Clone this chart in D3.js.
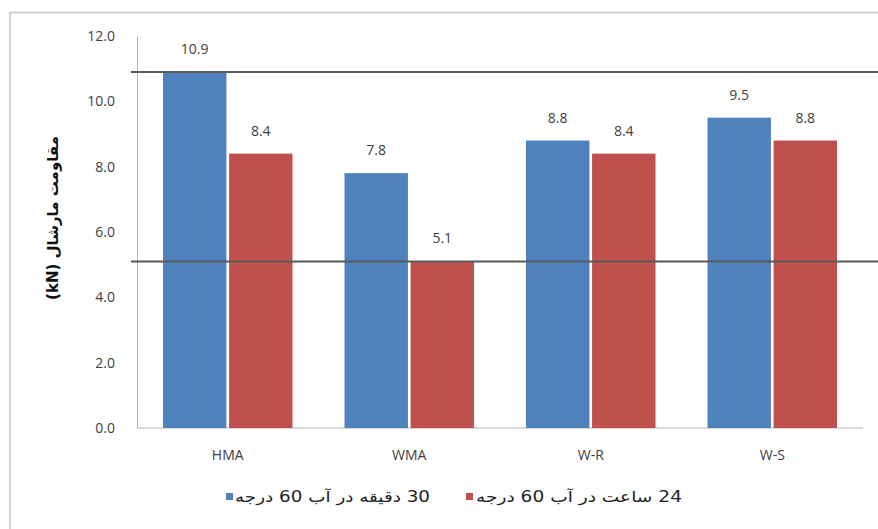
<!DOCTYPE html>
<html>
<head>
<meta charset="utf-8">
<script src="https://cdn.jsdelivr.net/npm/d3@7"></script>
<style>
  body { margin: 0; background: #fff; }
  svg { display: block; }
</style>
</head>
<body>
<div id="chart"></div>
<script>
// Marshall stability chart

const width = 878,
      height = 529;

// data
const categories = ["HMA", "WMA", "W-R", "W-S"];
const seriesNames = ["30 دقیقه در آب 60 درجه", "24 ساعت در آب 60 درجه"];
const after30min = [10.9, 7.8, 8.8, 9.5];
const after24h = [8.4, 5.1, 8.4, 8.8];
const yTicks = [0, 2, 4, 6, 8, 10, 12];
const refLines = [10.9, 5.1];
const colors = ["#4f81bd", "#c0504d"];

const margin = {top: 36, right: 15, bottom: 101, left: 137};
const labelFont = "'Open Sans', sans-serif";

const svg = d3.select('#chart').append('svg')
    .attr("width", width)
    .attr("height", height);

// outer frame (only top and left edges are visible)
svg.append("path")
    .attr("d", "M10,529 V12.5 H878")
    .attr("fill", "none")
    .attr("stroke", "#c4c8cc")
    .attr("stroke-width", 1.5);

const y = d3.scaleLinear()
    .domain([0, 12])
    .range([height - margin.bottom, margin.top]);

const x0 = d3.scaleBand()
    .domain(categories)
    .range([margin.left, width - margin.right])
    .paddingInner(0)
    .paddingOuter(0);

const x1 = d3.scaleBand()
    .domain([0, 1])
    .range([26, x0.bandwidth() - 26])
    .paddingInner(0.04);

const rows = categories.map((c, i) => ({cat: c, vals: [after30min[i], after24h[i]]}));

// axes
const yAxis = d3.axisLeft(y)
    .tickValues(yTicks)
    .tickFormat(d3.format(".1f"))
    .tickSize(0)
    .tickPadding(22);

const gy = svg.append("g")
    .attr("transform", `translate(${margin.left},0)`)
    .call(yAxis);
gy.select(".domain").attr("stroke", "#b5b5b5");
gy.selectAll("text")
    .style("font-family", labelFont)
    .style("font-size", "14px")
    .attr("fill", "#404040");

const xAxis = d3.axisBottom(x0).tickSize(0).tickPadding(22);
const gx = svg.append("g")
    .attr("transform", `translate(0,${y(0)})`)
    .call(xAxis);
gx.select(".domain").attr("stroke", "#b5b5b5").attr("d", `M${margin.left},0H${width - margin.right}`);
gx.selectAll("text")
    .style("font-family", labelFont)
    .style("font-size", "14px")
    .attr("fill", "#404040");

// bars
const groups = svg.selectAll(".grp")
    .data(rows)
    .enter().append("g")
    .attr("class", "grp")
    .attr("transform", d => `translate(${x0(d.cat)},0)`);

groups.selectAll("rect")
    .data(d => d.vals.map((v, k) => ({k: k, v: v})))
    .enter().append("rect")
    .attr("x", d => x1(d.k))
    .attr("width", x1.bandwidth())
    .attr("y", d => y(d.v))
    .attr("height", d => y(0) - y(d.v))
    .attr("fill", d => colors[d.k]);

groups.selectAll(".lbl")
    .data(d => d.vals.map((v, k) => ({k: k, v: v})))
    .enter().append("text")
    .attr("class", "lbl")
    .attr("x", d => x1(d.k) + x1.bandwidth() / 2)
    .attr("y", d => y(d.v) - 18)
    .attr("text-anchor", "middle")
    .style("font-family", labelFont)
    .style("font-size", "14px")
    .attr("fill", "#404040")
    .text(d => d3.format(".1f")(d.v));

// horizontal reference lines
svg.selectAll(".ref")
    .data(refLines)
    .enter().append("line")
    .attr("class", "ref")
    .attr("x1", margin.left - 6)
    .attr("x2", width)
    .attr("y1", d => y(d))
    .attr("y2", d => y(d))
    .attr("stroke", "#595959")
    .attr("stroke-width", 2);

// y axis title
svg.append("text")
    .attr("transform", `translate(58,${(y(0) + y(12)) / 2 - 14}) rotate(-90)`)
    .attr("text-anchor", "middle")
    .style("font-family", "'DejaVu Sans', sans-serif")
    .style("font-size", "15px")
    .style("font-weight", "bold")
    .attr("fill", "#111")
    .text("(kN) مقاومت مارشال");

// legend
const legendX = [226, 466],
      legendTextLeft = [235, 476],
      legendTextWidth = [195, 206];
const leg = svg.selectAll(".leg")
    .data(seriesNames)
    .enter().append("g")
    .attr("class", "leg");

leg.append("rect")
    .attr("x", (d, i) => legendX[i])
    .attr("y", 493)
    .attr("width", 7)
    .attr("height", 7)
    .attr("fill", (d, i) => colors[i]);

leg.append("text")
    .attr("x", (d, i) => legendTextLeft[i] + legendTextWidth[i])
    .attr("y", 502)
    .attr("direction", "rtl")
    .attr("text-anchor", "start")
    .attr("textLength", (d, i) => legendTextWidth[i])
    .attr("lengthAdjust", "spacingAndGlyphs")
    .style("font-family", "'DejaVu Sans', sans-serif")
    .style("font-size", "15px")
    .attr("fill", "#222")
    .text(d => d);
</script>
</body>
</html>
